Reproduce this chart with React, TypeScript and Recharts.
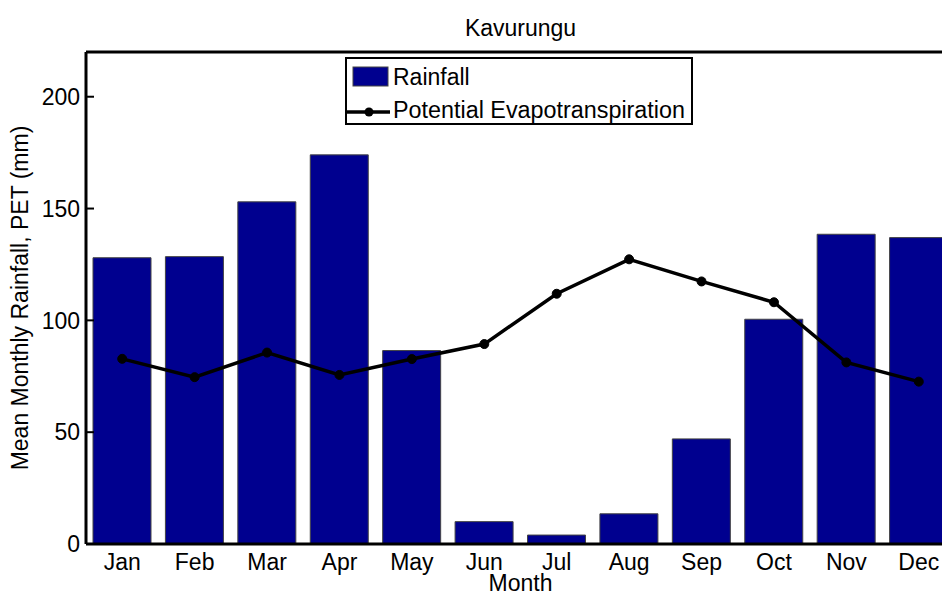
import React from "react";
import {
  ComposedChart,
  Bar,
  Line,
  XAxis,
  YAxis,
  Label,
} from "recharts";

const months = ["Jan", "Feb", "Mar", "Apr", "May", "Jun", "Jul", "Aug", "Sep", "Oct", "Nov", "Dec"];
const rainfall = [128, 128.5, 153, 174, 86.5, 10, 4, 13.5, 47, 100.5, 138.5, 137];
const pet = [82.8, 74.6, 85.6, 75.6, 82.7, 89.4, 111.9, 127.3, 117.4, 108.1, 81.2, 72.6];
const yTicks = [0, 50, 100, 150, 200];

const data = months.map((m, i) => ({ month: m, rainfall: rainfall[i], pet: pet[i] }));

const FONT = "'Liberation Sans', Arial, Helvetica, sans-serif";
const FS = 23;
const BAR_COLOR = "#00008f";

function LegendBox() {
  return (
    <svg
      width={348}
      height={68}
      style={{ position: "absolute", left: 345, top: 57, fontFamily: FONT }}
    >
      <rect x={1} y={1} width={346} height={66} fill="#fff" stroke="#000" strokeWidth={2} />
      <rect x={8} y={10} width={35} height={19} fill={BAR_COLOR} stroke="#444" strokeWidth={1} />
      <text x={48} y={28} fontSize={FS} fill="#000">Rainfall</text>
      <line x1={1} y1={55} x2={45} y2={55} stroke="#000" strokeWidth={3.5} />
      <circle cx={24} cy={55} r={4.5} fill="#000" />
      <text x={48} y={61} fontSize={FS} fill="#000" textLength={292} lengthAdjust="spacingAndGlyphs">
        Potential Evapotranspiration
      </text>
    </svg>
  );
}

export default function App() {
  return (
    <>
      {/* drop the body margin so the chart can use the whole window */}
      <style>{"body { margin: 0; }"}</style>
      <div
        style={{
          position: "relative",
          width: 942,
          height: 596,
          overflow: "hidden",
          fontFamily: FONT,
        }}
      >
        <ComposedChart
          width={975}
          height={596}
          data={data}
          margin={{ top: 42, right: 0, bottom: 22, left: 18 }}
          barCategoryGap={7}
        >
          <XAxis
            dataKey="month"
            xAxisId="bottom"
            orientation="bottom"
            height={30}
            tickLine={false}
            tickSize={0}
            tickMargin={10}
            axisLine={{ stroke: "#000", strokeWidth: 3 }}
            tick={{ fill: "#000", fontSize: FS, fontFamily: FONT }}
          >
            <Label value="Month" position="bottom" offset={1} fill="#000" fontSize={FS} fontFamily={FONT} />
          </XAxis>
          <XAxis
            dataKey="month"
            xAxisId="top"
            orientation="top"
            height={10}
            tick={false}
            tickSize={-8}
            tickLine={{ stroke: "#000", strokeWidth: 2 }}
            axisLine={{ stroke: "#000", strokeWidth: 3 }}
          >
            <Label value="Kavurungu" position="top" offset={6} fill="#000" fontSize={FS} fontFamily={FONT} />
          </XAxis>
          <YAxis
            yAxisId="left"
            domain={[0, 220]}
            ticks={yTicks}
            width={68}
            tickSize={-8}
            tickMargin={14}
            tickLine={{ stroke: "#000", strokeWidth: 2 }}
            axisLine={{ stroke: "#000", strokeWidth: 3 }}
            tick={{ fill: "#000", fontSize: FS, fontFamily: FONT }}
          >
            <Label
              value="Mean Monthly Rainfall, PET (mm)"
              angle={-90}
              position="insideLeft"
              offset={2}
              fill="#000"
              fontSize={FS}
              fontFamily={FONT}
              style={{ textAnchor: "middle" }}
            />
          </YAxis>
          <YAxis
            yAxisId="right"
            orientation="right"
            domain={[0, 220]}
            ticks={yTicks}
            width={20}
            tick={false}
            tickSize={-8}
            tickLine={{ stroke: "#000", strokeWidth: 2 }}
            axisLine={{ stroke: "#000", strokeWidth: 3 }}
          />
          <Bar
            dataKey="rainfall"
            name="Rainfall"
            xAxisId="bottom"
            yAxisId="left"
            fill={BAR_COLOR}
            stroke="#444"
            strokeWidth={1}
            isAnimationActive={false}
          />
          <Line
            dataKey="pet"
            name="Potential Evapotranspiration"
            xAxisId="bottom"
            yAxisId="left"
            type="linear"
            stroke="#000"
            strokeWidth={3.5}
            dot={{ r: 4.5, fill: "#000", stroke: "#000", strokeWidth: 1 }}
            isAnimationActive={false}
          />
        </ComposedChart>
        <LegendBox />
      </div>
    </>
  );
}
